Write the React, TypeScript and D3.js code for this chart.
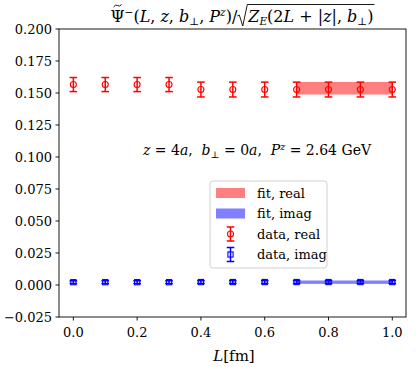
import React, { useEffect, useRef } from "react";
import * as d3 from "d3";

// L values [fm]
const lengths = [0, 0.1, 0.2, 0.3, 0.4, 0.5, 0.6, 0.7, 0.8, 0.9, 1.0];
const realValues = [0.1566, 0.1566, 0.1566, 0.1566, 0.1527, 0.1527, 0.1527, 0.1527, 0.1527, 0.1527, 0.1527];
const realErrors = [0.0055, 0.0055, 0.0055, 0.0055, 0.0058, 0.0058, 0.0058, 0.0058, 0.0058, 0.0058, 0.0058];
const imagValues = [0.0022, 0.0022, 0.0022, 0.0022, 0.0023, 0.0023, 0.0023, 0.0023, 0.0023, 0.0023, 0.0023];
const imagErrors = [0.0011, 0.0011, 0.0011, 0.0011, 0.0011, 0.0011, 0.0011, 0.0011, 0.0011, 0.0011, 0.0011];

// fit bands: [L start, L end], [center, half width]
const fitRange = [0.7, 1.0];
const fitReal = [0.1537, 0.0049];
const fitImag = [0.0022, 0.0013];

const yTicks = [-0.025, 0, 0.025, 0.05, 0.075, 0.1, 0.125, 0.15, 0.175, 0.2];
const xTicks = [0, 0.2, 0.4, 0.6, 0.8, 1.0];

const FONT = "'DejaVu Serif', serif";

export default function App() {
  const svgRef = useRef<SVGSVGElement>(null);

  useEffect(() => {
    const width = 416;
    const height = 367;
    const left = 59;
    const right = 406;
    const top = 29;
    const bottom = 317;

    const svg = d3.select(svgRef.current);
    svg.selectAll("*").remove();
    svg.attr("width", width).attr("height", height).style("font-family", FONT);

    const x = d3.scaleLinear().domain([-0.045, 1.043]).range([left, right]);
    const y = d3.scaleLinear().domain([-0.025, 0.2]).range([bottom, top]);

    const red = "#ff0000";
    const blue = "#0000ff";

    // fit bands
    const band = (fit: number[], color: string) =>
      svg
        .append("rect")
        .attr("x", x(fitRange[0]))
        .attr("width", x(fitRange[1]) - x(fitRange[0]))
        .attr("y", y(fit[0] + fit[1]))
        .attr("height", y(fit[0] - fit[1]) - y(fit[0] + fit[1]))
        .attr("fill", color)
        .attr("fill-opacity", 0.5);
    band(fitReal, red);
    band(fitImag, blue);

    const cap = 3.8;
    const drawErrors = (vals: number[], errs: number[], color: string, marker: string) => {
      const g = svg.append("g").attr("stroke", color).attr("stroke-width", 1.5).attr("fill", "none");
      lengths.forEach((l, i) => {
        const cx = x(l);
        const y0 = y(vals[i] - errs[i]);
        const y1 = y(vals[i] + errs[i]);
        g.append("line").attr("x1", cx).attr("x2", cx).attr("y1", y0).attr("y2", y1);
        g.append("line").attr("x1", cx - cap).attr("x2", cx + cap).attr("y1", y0).attr("y2", y0);
        g.append("line").attr("x1", cx - cap).attr("x2", cx + cap).attr("y1", y1).attr("y2", y1);
        if (marker === "circle") {
          g.append("circle").attr("cx", cx).attr("cy", y(vals[i])).attr("r", 3).attr("stroke-width", 1.1);
        } else {
          g.append("rect")
            .attr("x", cx - 2.6)
            .attr("y", y(vals[i]) - 2.6)
            .attr("width", 5.2)
            .attr("height", 5.2)
            .attr("stroke-width", 1.1);
        }
      });
    };
    drawErrors(realValues, realErrors, red, "circle");
    drawErrors(imagValues, imagErrors, blue, "square");

    // frame
    svg
      .append("rect")
      .attr("x", left)
      .attr("y", top)
      .attr("width", right - left)
      .attr("height", bottom - top)
      .attr("fill", "none")
      .attr("stroke", "#000")
      .attr("stroke-width", 0.9);

    // y axis
    const yAxis = svg.append("g").attr("font-size", 13);
    yTicks.forEach((t) => {
      const py = y(t);
      yAxis.append("line").attr("x1", left - 3.5).attr("x2", left).attr("y1", py).attr("y2", py).attr("stroke", "#000").attr("stroke-width", 0.9);
      yAxis
        .append("text")
        .attr("x", left - 7)
        .attr("y", py)
        .attr("dy", "0.35em")
        .attr("text-anchor", "end")
        .text(d3.format(".3f")(t).replace("-", "\u2212"));
    });

    // x axis
    const xAxis = svg.append("g").attr("font-size", 13);
    xTicks.forEach((t) => {
      const px = x(t);
      xAxis.append("line").attr("x1", px).attr("x2", px).attr("y1", bottom).attr("y2", bottom + 3.5).attr("stroke", "#000").attr("stroke-width", 0.9);
      xAxis
        .append("text")
        .attr("x", px)
        .attr("y", bottom + 15.5)
        .attr("dy", "0.35em")
        .attr("text-anchor", "middle")
        .text(d3.format(".1f")(t));
    });

    const xLabel = svg
      .append("text")
      .attr("x", 234)
      .attr("y", 361)
      .attr("text-anchor", "middle")
      .attr("font-size", 15);
    xLabel.append("tspan").attr("font-style", "italic").text("L");
    xLabel.append("tspan").text("[fm]");

    // annotation
    const note = svg
      .append("text")
      .attr("x", 257)
      .attr("y", 155)
      .attr("text-anchor", "middle")
      .attr("font-size", 14)
      .style("white-space", "pre");
    note.append("tspan").attr("font-style", "italic").text("z");
    note.append("tspan").text(" = 4");
    note.append("tspan").attr("font-style", "italic").text("a");
    note.append("tspan").text(",  ");
    note.append("tspan").attr("font-style", "italic").text("b");
    note.append("tspan").attr("font-size", 9.5).attr("dy", 3).text("\u22A5");
    note.append("tspan").attr("dy", -3).text(" = 0");
    note.append("tspan").attr("font-style", "italic").text("a");
    note.append("tspan").text(",  ");
    note.append("tspan").attr("font-style", "italic").text("P");
    note.append("tspan").attr("font-style", "italic").attr("font-size", 9.5).attr("dy", -5).text("z");
    note.append("tspan").attr("dy", 5).text(" = 2.64 GeV");

    // title: two parts around a square root
    const base = 22;
    const tg = svg.append("g").attr("font-size", 16);
    const t1 = tg.append("text").attr("y", base).style("white-space", "pre");
    const psi = t1.append("tspan").text("\u03A8");
    t1.append("tspan").attr("font-size", 10.5).attr("dy", -6.5).text("\u2212");
    t1.append("tspan").attr("dy", 6.5).text("(");
    t1.append("tspan").attr("font-style", "italic").text("L");
    t1.append("tspan").text(", ");
    t1.append("tspan").attr("font-style", "italic").text("z");
    t1.append("tspan").text(", ");
    t1.append("tspan").attr("font-style", "italic").text("b");
    t1.append("tspan").attr("font-size", 10.5).attr("dy", 3).text("\u22A5");
    t1.append("tspan").attr("dy", -3).text(", ");
    t1.append("tspan").attr("font-style", "italic").text("P");
    t1.append("tspan").attr("font-style", "italic").attr("font-size", 10.5).attr("dy", -6.5).text("z");
    t1.append("tspan").attr("dy", 6.5).text(")/");
    const t2 = tg.append("text").attr("y", base).style("white-space", "pre");
    t2.append("tspan").attr("font-style", "italic").text("Z");
    t2.append("tspan").attr("font-style", "italic").attr("font-size", 10.5).attr("dy", 3).text("E");
    t2.append("tspan").attr("dy", -3).text("(2");
    t2.append("tspan").attr("font-style", "italic").text("L");
    t2.append("tspan").text(" + |");
    t2.append("tspan").attr("font-style", "italic").text("z");
    t2.append("tspan").text("|, ");
    t2.append("tspan").attr("font-style", "italic").text("b");
    t2.append("tspan").attr("font-size", 10.5).attr("dy", 3).text("\u22A5");
    t2.append("tspan").attr("dy", -3).text(")");

    const w1 = (t1.node() as SVGTextElement).getComputedTextLength();
    const w2 = (t2.node() as SVGTextElement).getComputedTextLength();
    const radW = 11;
    const total = w1 + radW + w2;
    const start = 242 - total / 2;
    t1.attr("x", start);
    const rx = start + w1;
    t2.attr("x", rx + radW);
    // tilde above Psi
    const psiW = (psi.node() as SVGTSpanElement).getComputedTextLength();
    const tx = start + psiW / 2;
    tg.append("path")
      .attr("d", `M${tx - 4},${7} Q${tx - 2},${4} ${tx},${5.5} T${tx + 4},${4.5}`)
      .attr("fill", "none")
      .attr("stroke", "#000")
      .attr("stroke-width", 0.9);
    tg.append("path")
      .attr("d", `M${rx},${base - 6} L${rx + 2},${base - 7} L${rx + 5.5},${base + 4} L${rx + 10},${4.5} L${rx + radW + w2 + 1},${4.5}`)
      .attr("fill", "none")
      .attr("stroke", "#000")
      .attr("stroke-width", 0.9);

    // legend
    const lg = svg.append("g").attr("font-size", 13);
    lg.append("rect")
      .attr("x", 210)
      .attr("y", 181)
      .attr("width", 117)
      .attr("height", 87)
      .attr("rx", 3)
      .attr("fill", "#fff")
      .attr("fill-opacity", 0.8)
      .attr("stroke", "#cccccc")
      .attr("stroke-width", 0.9);
    const rows = [
      { label: "fit, real", color: red, kind: "patch" },
      { label: "fit, imag", color: blue, kind: "patch" },
      { label: "data, real", color: red, kind: "circle" },
      { label: "data, imag", color: blue, kind: "square" },
    ];
    rows.forEach((r, i) => {
      const cy = 193 + i * 20.5;
      if (r.kind === "patch") {
        lg.append("rect").attr("x", 216).attr("y", cy - 5).attr("width", 29).attr("height", 10).attr("fill", r.color).attr("fill-opacity", 0.5);
      } else {
        const g = lg.append("g").attr("stroke", r.color).attr("stroke-width", 1.5).attr("fill", "none");
        const cx = 230.5;
        g.append("line").attr("x1", cx).attr("x2", cx).attr("y1", cy - 7).attr("y2", cy + 7);
        g.append("line").attr("x1", cx - cap).attr("x2", cx + cap).attr("y1", cy - 7).attr("y2", cy - 7);
        g.append("line").attr("x1", cx - cap).attr("x2", cx + cap).attr("y1", cy + 7).attr("y2", cy + 7);
        if (r.kind === "circle") g.append("circle").attr("cx", cx).attr("cy", cy).attr("r", 3).attr("stroke-width", 1.1);
        else g.append("rect").attr("x", cx - 2.6).attr("y", cy - 2.6).attr("width", 5.2).attr("height", 5.2).attr("stroke-width", 1.1);
      }
      lg.append("text").attr("x", 257).attr("y", cy).attr("dy", "0.35em").text(r.label);
    });
  }, []);

  return <svg ref={svgRef} style={{ position: "absolute", left: 0, top: 0 }} />;
}
